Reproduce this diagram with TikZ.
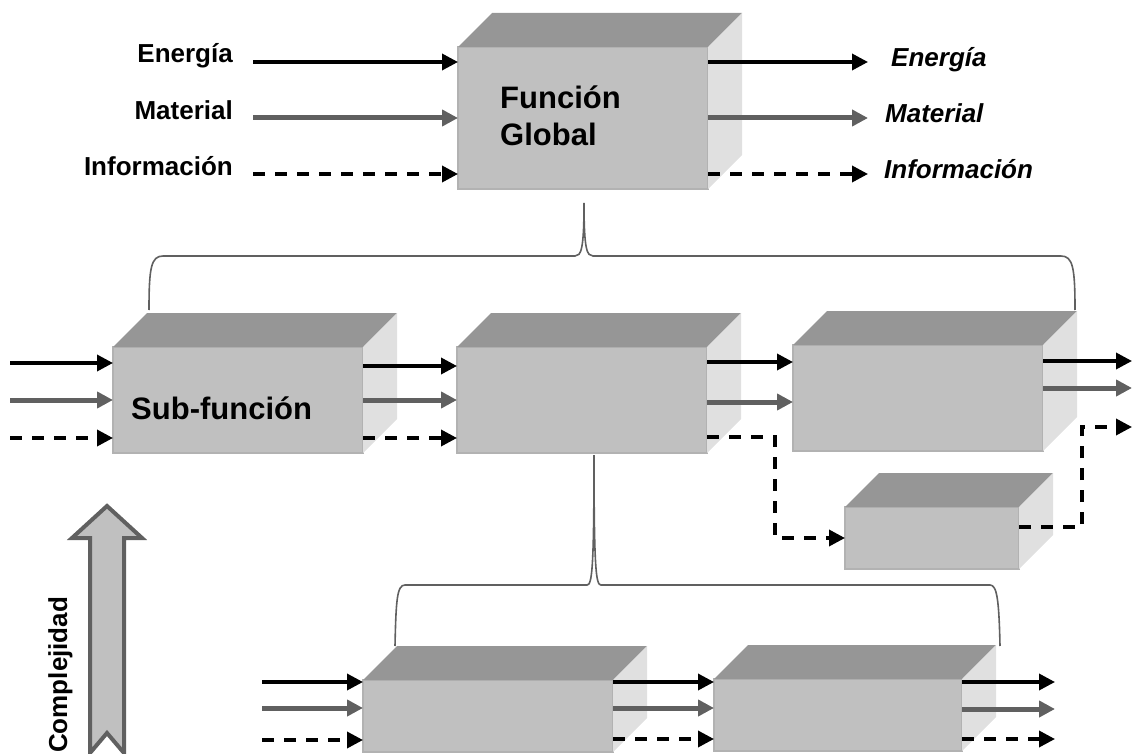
\documentclass[tikz,border=0pt]{standalone}
\usepackage{fontspec}
\setmainfont{Liberation Sans}
\usetikzlibrary{arrows.meta}
\definecolor{boxfront}{HTML}{C0C0C0}
\definecolor{boxtop}{HTML}{969696}
\definecolor{boxside}{HTML}{E0E0E0}
\definecolor{boxedge}{HTML}{B2B2B2}
\definecolor{arrgray}{HTML}{606060}
\begin{document}
\begin{tikzpicture}[x=1pt,y=-1pt,
  cube/.style={draw=boxedge, fill=boxfront, line width=1.5pt, inner sep=0pt, outer sep=0pt},
  en/.style={line width=3.5pt, black, -{Triangle[length=16pt,width=16pt]}},
  mat/.style={line width=5pt, arrgray, -{Triangle[length=16pt,width=16pt]}},
  inf/.style={line width=3.5pt, black, dash pattern=on 12pt off 10pt, -{Triangle[length=16pt,width=16pt]}},
  lbl/.style={font=\bfseries\fontsize{26}{30}\selectfont, inner sep=0pt},
  ilbl/.style={font=\bfseries\itshape\fontsize{26}{30}\selectfont, inner sep=0pt},
  big/.style={font=\bfseries\fontsize{31}{37}\selectfont, inner sep=0pt},
  brace/.style={draw=arrgray, line width=1.6pt},
  bigarrow/.style={draw=arrgray, fill=boxfront, line width=4pt, miter limit=10}
]
\useasboundingbox (0,0) rectangle (1133,754);

% boxes (front faces)
\node[cube, minimum width=250pt, minimum height=142pt] (G) at (583,118) {};
\node[cube, minimum width=250pt, minimum height=106pt] (S1) at (238,400) {};
\node[cube, minimum width=250pt, minimum height=106pt] (S2) at (582,400) {};
\node[cube, minimum width=250pt, minimum height=106pt] (S3) at (918,398) {};
\node[cube, minimum width=174pt, minimum height=62pt] (S4) at (932,538) {};
\node[cube, minimum width=250pt, minimum height=72pt] (B1) at (488,716) {};
\node[cube, minimum width=248pt, minimum height=72pt] (B2) at (838,715) {};

% top and side faces
\foreach \b in {G,S1,S2,S3,S4,B1,B2}{
  \fill[boxtop] (\b.north west) -- ++(34,-34) -- ([shift={(34,-34)}]\b.north east) -- (\b.north east) -- cycle;
  \fill[boxside] (\b.north east) -- ++(34,-34) -- ([shift={(34,-34)}]\b.south east) -- (\b.south east) -- cycle;
}

% texts
\node[big, anchor=base west] (gt1) at (500,109) {Función};
\node[big, anchor=base west] (gt2) at (500,146) {Global};
\node[big, anchor=base west] (st) at (131,419) {Sub-función};

\node[lbl, anchor=base east] (le) at (233,63) {Energía};
\node[lbl, anchor=base east] (lm) at (233,120) {Material};
\node[lbl, anchor=base east] (li) at (233,176) {Información};
\node[ilbl, anchor=base west] (re) at (891,67) {Energía};
\node[ilbl, anchor=base west] (rm) at (885,123) {Material};
\node[ilbl, anchor=base west] (ri) at (884,179) {Información};

% top level flows
\coordinate (ei) at (253,62);
\coordinate (mi) at (253,118);
\coordinate (ii) at (253,174);
\draw[en] (ei) -- (ei -| G.west);
\draw[mat] (mi) -- (mi -| G.west);
\draw[inf] (ii) -- (ii -| G.west);
\coordinate (eo) at (868,62);
\coordinate (mo) at (868,118);
\coordinate (io) at (868,174);
\draw[en] (eo -| G.east) -- (eo);
\draw[mat] (mo -| G.east) -- (mo);
\draw[inf] (io -| G.east) -- (io);

% braces
\draw[brace] (149,310) .. controls (149,268) and (151,256) .. (163,256) -- (575,256)
  .. controls (581,256) and (584,250) .. (584,203)
  .. controls (584,250) and (587,256) .. (593,256) -- (1061,256)
  .. controls (1073,256) and (1075,268) .. (1075,310);
\draw[brace] (395,646) .. controls (396,600) and (397,585) .. (405,585) -- (587,585)
  .. controls (592,585) and (594,570) .. (594,455)
  .. controls (594,570) and (596,585) .. (601,585) -- (990,585)
  .. controls (997,585) and (999,600) .. (1000,646);

% second level flows
\coordinate (s1e) at (10,363);
\coordinate (s1m) at (10,400);
\coordinate (s1i) at (10,438);
\draw[en] (s1e) -- (s1e -| S1.west);
\draw[mat] (s1m) -- (s1m -| S1.west);
\draw[inf] (s1i) -- (s1i -| S1.west);
\draw[en] (S1.east |- 0,366) -- (S2.west |- 0,366);
\draw[mat] (S1.east |- 0,400) -- (S2.west |- 0,400);
\draw[inf] (S1.east |- 0,438) -- (S2.west |- 0,438);
\draw[en] (S2.east |- 0,362) -- (S3.west |- 0,362);
\draw[mat] (S2.east |- 0,402) -- (S3.west |- 0,402);
\coordinate (k1) at (775,437);
\draw[inf] (S2.east |- k1) -- (k1) |- (S4.west);
\coordinate (s3e) at (1132,361);
\coordinate (s3m) at (1132,388);
\coordinate (s3i) at (1132,427);
\coordinate (k2) at (1082,527);
\draw[en] (s3e -| S3.east) -- (s3e);
\draw[mat] (s3m -| S3.east) -- (s3m);
\draw[inf] (k2 -| S4.east) -- (k2) |- (s3i);

% third level flows
\coordinate (b1e) at (262,682);
\coordinate (b1m) at (262,708);
\coordinate (b1i) at (262,740);
\draw[en] (b1e) -- (b1e -| B1.west);
\draw[mat] (b1m) -- (b1m -| B1.west);
\draw[inf] (b1i) -- (b1i -| B1.west);
\draw[en] (B1.east |- 0,682) -- (B2.west |- 0,682);
\draw[mat] (B1.east |- 0,708) -- (B2.west |- 0,708);
\draw[inf] (B1.east |- 0,739) -- (B2.west |- 0,739);
\coordinate (b2e) at (1055,682);
\coordinate (b2m) at (1055,709);
\coordinate (b2i) at (1055,739);
\draw[en] (b2e -| B2.east) -- (b2e);
\draw[mat] (b2m -| B2.east) -- (b2m);
\draw[inf] (b2i -| B2.east) -- (b2i);

% complexity arrow
\draw[bigarrow] (90,753) -- (90,538) -- (72,538) -- (107,506) -- (142,538) -- (124,538) -- (124,753) -- (107,733) -- cycle;
\node[lbl, rotate=90, anchor=base west] (cx) at (67,753) {Complejidad};
\end{tikzpicture}
\end{document}
